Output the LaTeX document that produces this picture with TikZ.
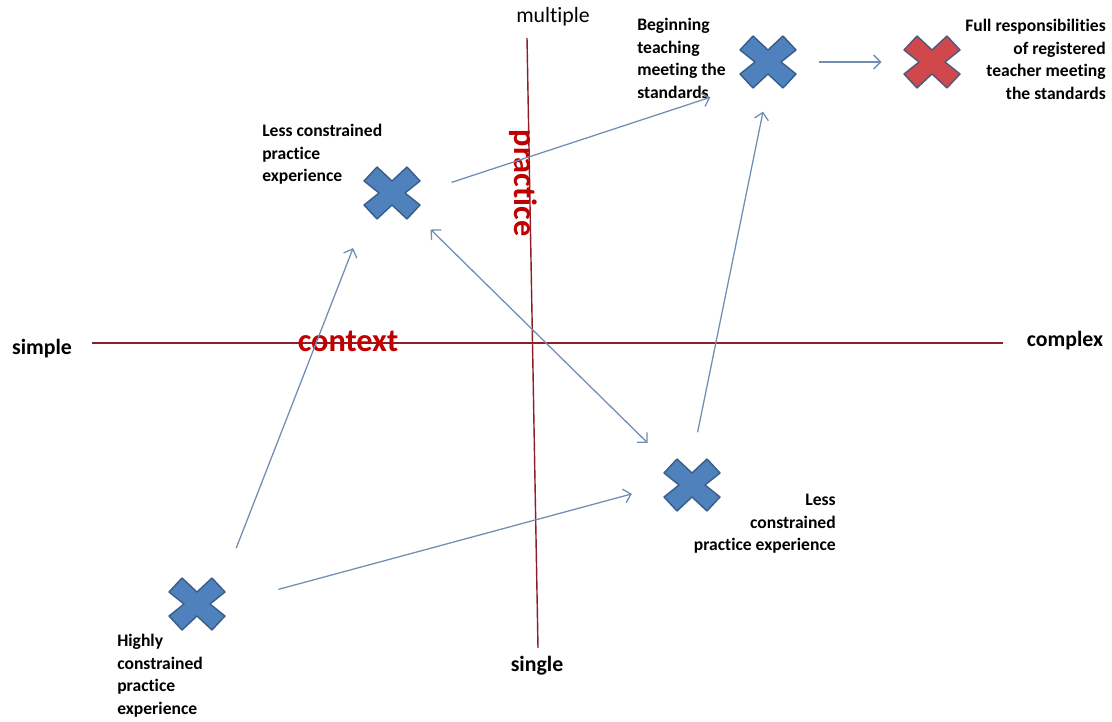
\documentclass[tikz,border=0pt]{standalone}
\usepackage{fontspec}
\setmainfont{Carlito}[Ligatures=NoCommon]
\usetikzlibrary{arrows.meta}
\definecolor{xblue}{RGB}{79,129,189}
\definecolor{xblueline}{RGB}{56,93,138}
\definecolor{xred}{RGB}{208,72,76}
\definecolor{xredline}{RGB}{78,88,128}
\definecolor{flowblue}{RGB}{112,142,178}
\definecolor{axisred}{RGB}{140,30,40}
\definecolor{ctxred}{RGB}{192,0,0}
\begin{document}
\begin{tikzpicture}[x=0.025cm, y=-0.025cm,
  cross spot/.style={rectangle,minimum width=1.35cm,minimum height=1.25cm,inner sep=0pt},
  flow/.style={draw=flowblue, line width=0.9pt, -{Straight Barb[length=5pt,width=10pt]}},
  axis/.style={draw=axisred, line width=1pt},
  small lbl/.style={font=\bfseries\fontsize{12.5pt}{16pt}\selectfont, inner sep=0pt},
  axis lbl/.style={font=\bfseries\fontsize{15.5pt}{18pt}\selectfont},
  big lbl/.style={font=\bfseries\fontsize{23pt}{26pt}\selectfont, text=ctxred, inner sep=0pt},
  xmark/.pic={\filldraw[line width=1pt, line join=round] (-28,-12) -- (-15,-26) -- (0,-12) -- (15,-26) -- (28,-12) -- (13,0)
      -- (28,12) -- (15,26) -- (0,12) -- (-15,26) -- (-28,12) -- (-13,0) -- cycle;}]
\useasboundingbox (0,0) rectangle (1112,722);

% axes
\coordinate (hL) at (92,343);
\coordinate (hR) at (1003,343);
\coordinate (vT) at (527,38);
\coordinate (vB) at (538,648);
\path[axis] (hL) -- (hR);
\path[axis] (vT) -- (vB);

\node[axis lbl] (simple) at (42,349) {simple};
\node[axis lbl] (complex) at (1065,341) {complex};
\node[axis lbl, font=\fontsize{15.5pt}{18pt}\selectfont] (multiple) at (553,17) {multiple};
\node[axis lbl] (single) at (537,666) {single};
\node[big lbl] (context) at (348,341) {context};
\node[big lbl, rotate=-90] (practice) at (523,183) {practice};

% crosses
\node[cross spot] (hcA) at (197,604) {};
\node[cross spot] (lcA) at (392,193) {};
\node[cross spot] (lcB) at (692,485) {};
\node[cross spot] (beg) at (768,62) {};
\node[cross spot] (full) at (932,62) {};
\begin{scope}[fill=xblue, draw=xblueline]
\pic at (hcA) {xmark};
\pic at (lcA) {xmark};
\pic at (lcB) {xmark};
\pic at (beg) {xmark};
\end{scope}
\pic[fill=xred, draw=xredline] at (full) {xmark};

% texts
\node[small lbl, anchor=north west, align=left] (hcAtxt) at (117,634) {Highly\\constrained\\practice\\experience};
\node[small lbl, anchor=north west, align=left] (lcAtxt) at (262,124) {Less constrained\\practice\\experience};
\node[small lbl, anchor=north west, align=left] (begtxt) at (637,18) {Beginning\\teaching\\meeting the\\standards};
\node[small lbl, anchor=north east, align=right] (lcBtxt) at (836,494) {Less\\constrained\\practice experience};
\node[small lbl, anchor=north east, align=right] (fulltxt) at (1106,19) {Full responsibilities\\of registered\\teacher meeting\\the standards};

% pathways
\path[flow, shorten <=0.82cm, shorten >=0.8cm] (hcA.north east) -- (lcA.south west);
\path[flow, shorten <=1.4cm, shorten >=0.85cm] (hcA.east) -- (lcB.west);
\path[flow, shorten <=0.85cm, shorten >=0.8cm] (lcA.east) -- (beg.south west);
\path[flow, {Straight Barb[length=5pt,width=10pt]}-{Straight Barb[length=5pt,width=10pt]}, shorten <=0.4cm, shorten >=0.6cm] (lcA.south east) -- (lcB.north west);
\path[flow, shorten <=0.7cm, shorten >=0.62cm] (lcB.north) -- (beg.south);
\path[flow, shorten <=0.58cm, shorten >=0.58cm] (beg.east) -- (full.west);
\end{tikzpicture}
\end{document}
